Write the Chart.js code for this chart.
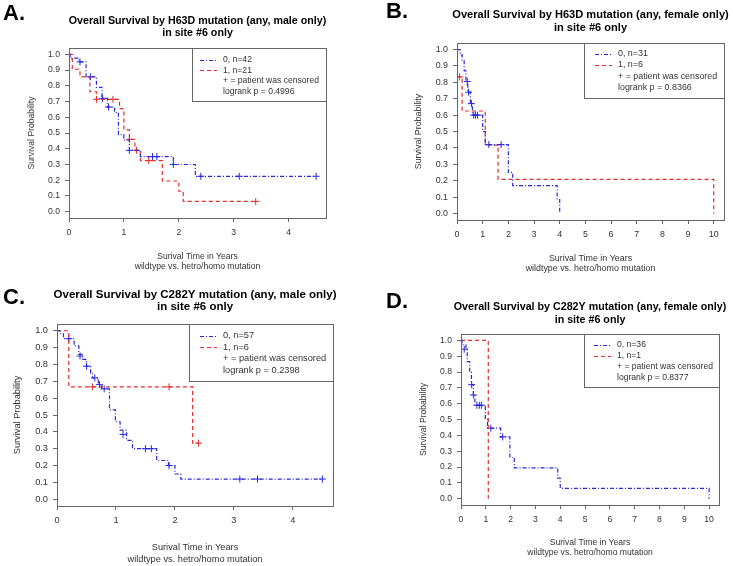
<!DOCTYPE html>
<html>
<head>
<meta charset="utf-8">
<script src="https://cdn.jsdelivr.net/npm/chart.js@4.4.1/dist/chart.umd.min.js"></script>
<style>
  body { margin: 0; background: #fff; width: 733px; height: 566px; position: relative; overflow: hidden; }
  canvas { position: absolute; }
</style>
</head>
<body>
<canvas id="cA" width="366" height="283" style="left:0px;top:0px"></canvas>
<canvas id="cB" width="367" height="283" style="left:366px;top:0px"></canvas>
<canvas id="cC" width="366" height="283" style="left:0px;top:283px"></canvas>
<canvas id="cD" width="367" height="283" style="left:366px;top:283px"></canvas>
<script>
// ---- data ----
const letters = ['A.', 'B.', 'C.', 'D.'];
const titles = [
  ['Overall Survival by H63D mutation (any, male only)', 'in site #6 only'],
  ['Overall Survival by H63D mutation (any, female only)', 'in site #6 only'],
  ['Overall Survival by C282Y mutation (any, male only)', 'in site #6 only'],
  ['Overall Survival by C282Y mutation (any, female only)', 'in site #6 only']
];
const groupN = [[42, 21], [31, 6], [57, 6], [36, 1]];
const logrankP = ['0.4996', '0.8366', '0.2398', '0.8377'];
const yTicks = [0.0, 0.1, 0.2, 0.3, 0.4, 0.5, 0.6, 0.7, 0.8, 0.9, 1.0];
const xTicksShort = [0, 1, 2, 3, 4];
const xTicksLong = [0, 1, 2, 3, 4, 5, 6, 7, 8, 9, 10];
const xTitle = ['Surival Time in Years', 'wildtype vs. hetro/homo mutation'];
const yTitle = 'Survival Probability';

// A: H63D, male
const aBlueTime = [0, 0.02, 0.18, 0.31, 0.5, 0.6, 0.7, 0.83, 0.9, 1.0, 1.1, 1.3, 1.9, 2.3, 4.5];
const aBlueSurv = [1, 0.976, 0.952, 0.857, 0.79, 0.72, 0.665, 0.63, 0.49, 0.455, 0.39, 0.35, 0.30, 0.225, 0.225];
const aBlueCensTime = [0.2, 0.39, 0.61, 0.72, 1.1, 1.52, 1.6, 1.9, 2.4, 3.1, 4.5];
const aBlueCensSurv = [0.952, 0.857, 0.72, 0.665, 0.39, 0.35, 0.35, 0.30, 0.225, 0.225, 0.225];
const aRedTime = [0, 0.06, 0.2, 0.38, 0.5, 0.92, 1.0, 1.1, 1.2, 1.3, 1.7, 2.0, 2.08, 3.4];
const aRedSurv = [1, 0.905, 0.857, 0.762, 0.714, 0.655, 0.52, 0.46, 0.39, 0.325, 0.195, 0.13, 0.065, 0.065];
const aRedCensTime = [0.5, 0.8, 1.1, 1.23, 1.45, 3.4];
const aRedCensSurv = [0.714, 0.714, 0.46, 0.39, 0.325, 0.065];

// B: H63D, female
const bBlueTime = [0, 0.12, 0.2, 0.28, 0.35, 0.42, 0.52, 0.6, 1.0, 1.1, 2.0, 2.17, 3.9, 4.0];
const bBlueSurv = [1, 0.968, 0.935, 0.87, 0.805, 0.74, 0.67, 0.6, 0.5, 0.42, 0.25, 0.17, 0.085, 0];
const bBlueCensTime = [0.4, 0.45, 0.56, 0.65, 0.72, 0.8, 1.24, 1.72];
const bBlueCensSurv = [0.805, 0.74, 0.67, 0.6, 0.6, 0.6, 0.42, 0.42];
const bRedTime = [0, 0.2, 1.1, 1.6, 10, 10];
const bRedSurv = [0.833, 0.625, 0.417, 0.208, 0.208, 0];
const bRedCensTime = [0.1];
const bRedCensSurv = [0.833];

// C: C282Y, male
const cBlueTime = [0, 0.05, 0.11, 0.29, 0.37, 0.43, 0.5, 0.57, 0.6, 0.7, 0.76, 0.89, 0.99, 1.07, 1.18, 1.28, 1.69, 1.89, 2.0, 2.1, 4.5];
const cBlueSurv = [1, 0.982, 0.953, 0.91, 0.86, 0.83, 0.79, 0.75, 0.72, 0.68, 0.655, 0.53, 0.46, 0.41, 0.35, 0.30, 0.23, 0.2, 0.15, 0.12, 0.12];
const cBlueCensTime = [0.2, 0.39, 0.5, 0.64, 0.72, 0.8, 1.12, 1.5, 1.6, 1.9, 3.1, 3.4, 4.5];
const cBlueCensSurv = [0.953, 0.85, 0.79, 0.72, 0.68, 0.655, 0.385, 0.30, 0.30, 0.2, 0.12, 0.12, 0.12];
const cRedTime = [0, 0.2, 2.3, 2.4];
const cRedSurv = [1, 0.667, 0.333, 0.333];
const cRedCensTime = [0.6, 1.9, 2.4];
const cRedCensSurv = [0.667, 0.667, 0.333];

// D: C282Y, female
const dBlueTime = [0, 0.04, 0.2, 0.25, 0.35, 0.42, 0.5, 0.56, 0.98, 1.07, 1.6, 1.97, 2.15, 3.9, 4.0, 10];
const dBlueSurv = [1, 0.972, 0.944, 0.866, 0.80, 0.72, 0.655, 0.59, 0.5, 0.445, 0.39, 0.26, 0.195, 0.13, 0.065, 0];
const dBlueCensTime = [0.13, 0.43, 0.5, 0.64, 0.74, 0.82, 1.2, 1.68];
const dBlueCensSurv = [0.944, 0.72, 0.655, 0.59, 0.59, 0.59, 0.445, 0.39];
const dRedTime = [0, 1.1, 1.1];
const dRedSurv = [1, 1, 0];
const dRedCensTime = [];
const dRedCensSurv = [];

// ---- look ----
const FONT = "'Liberation Sans', Arial, sans-serif";
const BLUE = 'rgb(40,40,225)';
const RED = 'rgb(232,45,45)';
const BLUE_DASH = [4, 2, 1, 2];
const RED_DASH = [4, 3];
const BOX = '#666';
const TEXT = '#333';

// page positions of each panel (plot box = l,t,r,b in page px)
const layouts = [
  { ox: 0, oy: 0, w: 366, plot: [69, 48, 326, 218], xmax: 4.68, fs: 1.0,
    letter: [3, 14], titleY: [21, 33], yTitleX: 32, xTitleY2: 267,
    legend: { w: 134, h: 53, textDx: 31, y0: 12, dy: 10.4 } },
  { ox: 366, oy: 0, w: 367, plot: [457, 43, 724, 220], xmax: 10.4, fs: 1.035,
    letter: [386, 12], titleY: [15, 28], yTitleX: 419, xTitleY2: 269,
    legend: { w: 140, h: 55, textDx: 34, y0: 10.5, dy: 11.3 } },
  { ox: 0, oy: 283, w: 366, plot: [57, 324, 333, 506], xmax: 4.68, fs: 1.075,
    letter: [3, 298], titleY: [295, 307], yTitleX: 17, xTitleY2: 559,
    legend: { w: 144, h: 57, textDx: 34, y0: 11.5, dy: 11.6 } },
  { ox: 366, oy: 283, w: 367, plot: [461, 334, 719, 505], xmax: 10.4, fs: 1.0,
    letter: [386, 302], titleY: [307, 320], yTitleX: 424, xTitleY2: 553,
    legend: { w: 135, h: 53, textDx: 33, y0: 10.5, dy: 11 } }
];

function pts(ts, ss) {
  return ts.map((t, i) => ({ x: t, y: ss[i] }));
}

// box round the plot, panel letter, title, legend box
const decor = {
  id: 'decor',
  afterDraw(chart, args, o) {
    const ctx = chart.ctx;
    const a = chart.chartArea;
    ctx.save();
    ctx.strokeStyle = BOX;
    ctx.lineWidth = 1;
    ctx.setLineDash([]);
    ctx.strokeRect(Math.round(a.left) + 0.5, Math.round(a.top) + 0.5,
      Math.round(a.right - a.left), Math.round(a.bottom - a.top));

    ctx.fillStyle = '#000';
    ctx.textBaseline = 'middle';
    ctx.textAlign = 'left';
    ctx.font = 'bold 22px ' + FONT;
    ctx.fillText(o.letter, o.letterX, o.letterY);

    ctx.textAlign = 'center';
    ctx.font = 'bold ' + o.titleSize + 'px ' + FONT;
    const cx = (a.left + a.right) / 2;
    ctx.fillText(o.title[0], cx, o.titleY[0]);
    ctx.fillText(o.title[1], cx, o.titleY[1]);

    // legend
    const lg = o.legend;
    const lx = Math.round(a.right - lg.w), ly = Math.round(a.top);
    ctx.fillStyle = '#fff';
    ctx.fillRect(lx, ly, lg.w, lg.h);
    ctx.strokeStyle = BOX;
    ctx.strokeRect(lx + 0.5, ly + 0.5, Math.round(a.right) - lx, lg.h);
    ctx.font = o.textSize + 'px ' + FONT;
    ctx.textAlign = 'left';
    const tx = lx + lg.textDx;
    o.rows.forEach((txt, i) => {
      const y = ly + lg.y0 + i * lg.dy;
      if (i < 2) {
        ctx.strokeStyle = i === 0 ? BLUE : RED;
        ctx.lineWidth = 1.2;
        ctx.setLineDash(i === 0 ? BLUE_DASH : RED_DASH);
        ctx.beginPath();
        ctx.moveTo(tx - 23, Math.round(y) + 0.5);
        ctx.lineTo(tx - 6, Math.round(y) + 0.5);
        ctx.stroke();
      }
      ctx.fillStyle = TEXT;
      ctx.fillText(txt, tx, y);
    });
    ctx.restore();
  }
};

const panels = [
  { id: 'cA', blue: [aBlueTime, aBlueSurv], red: [aRedTime, aRedSurv], blueC: [aBlueCensTime, aBlueCensSurv], redC: [aRedCensTime, aRedCensSurv], xTicks: xTicksShort },
  { id: 'cB', blue: [bBlueTime, bBlueSurv], red: [bRedTime, bRedSurv], blueC: [bBlueCensTime, bBlueCensSurv], redC: [bRedCensTime, bRedCensSurv], xTicks: xTicksLong },
  { id: 'cC', blue: [cBlueTime, cBlueSurv], red: [cRedTime, cRedSurv], blueC: [cBlueCensTime, cBlueCensSurv], redC: [cRedCensTime, cRedCensSurv], xTicks: xTicksShort },
  { id: 'cD', blue: [dBlueTime, dBlueSurv], red: [dRedTime, dRedSurv], blueC: [dBlueCensTime, dBlueCensSurv], redC: [dRedCensTime, dRedCensSurv], xTicks: xTicksLong }
];

panels.forEach((p, k) => {
  const L = layouts[k];
  const ch = 283;
  const pl = L.plot[0] - L.ox, pt = L.plot[1] - L.oy, pr = L.plot[2] - L.ox, pb = L.plot[3] - L.oy;
  const txt = +(8.6 * L.fs).toFixed(2);
  const lh = txt * 1.2;

  new Chart(document.getElementById(p.id), {
    type: 'line',
    data: {
      datasets: [
        // survival curves: hold the level until the next event, then drop
        { data: pts(p.blue[0], p.blue[1]), borderColor: BLUE, borderWidth: 1.2, borderDash: BLUE_DASH, stepped: 'before', pointRadius: 0, fill: false },
        { data: pts(p.red[0], p.red[1]), borderColor: RED, borderWidth: 1.2, borderDash: RED_DASH, stepped: 'before', pointRadius: 0, fill: false },
        // censored patients
        { data: pts(p.blueC[0], p.blueC[1]), showLine: false, pointStyle: 'cross', pointRadius: 3.5, borderColor: BLUE, borderWidth: 1 },
        { data: pts(p.redC[0], p.redC[1]), showLine: false, pointStyle: 'cross', pointRadius: 3.5, borderColor: RED, borderWidth: 1 }
      ]
    },
    options: {
      responsive: false,
      animation: false,
      events: [],
      layout: { padding: { top: pt, left: 0, right: L.w - pr, bottom: 0 } },
      plugins: {
        legend: { display: false },
        tooltip: { enabled: false },
        decor: {
          letter: letters[k], letterX: L.letter[0] - L.ox, letterY: L.letter[1] - L.oy,
          title: titles[k], titleY: [L.titleY[0] - L.oy, L.titleY[1] - L.oy], titleSize: +(10.7 * L.fs).toFixed(2),
          textSize: txt, legend: L.legend,
          rows: ['0, n=' + groupN[k][0], '1, n=' + groupN[k][1], '+ = patient was censored', 'logrank p = ' + logrankP[k]]
        }
      },
      scales: {
        x: {
          type: 'linear', min: 0, max: L.xmax,
          afterBuildTicks: s => { s.ticks = p.xTicks.map(v => ({ value: v })); },
          afterFit: s => { s.height = ch - pb; },
          grid: { drawOnChartArea: false, tickLength: 4, color: BOX },
          border: { display: false },
          ticks: { font: { family: FONT, size: txt }, color: TEXT, padding: 5, maxRotation: 0, callback: v => String(v) },
          title: { display: true, text: xTitle, font: { family: FONT, size: txt }, color: TEXT,
                   padding: { top: 0, bottom: ch - (L.xTitleY2 - L.oy) - lh / 2 } }
        },
        y: {
          type: 'linear', min: -0.04, max: 1.04,
          afterBuildTicks: s => { s.ticks = yTicks.map(v => ({ value: v })); },
          afterFit: s => { s.width = pl; },
          grid: { drawOnChartArea: false, tickLength: 4, color: BOX },
          border: { display: false },
          ticks: { font: { family: FONT, size: txt }, color: TEXT, padding: 5, callback: v => v.toFixed(1) },
          title: { display: true, text: yTitle, font: { family: FONT, size: txt }, color: TEXT,
                   padding: { top: (L.yTitleX - L.ox) - lh / 2, bottom: 0 } }
        }
      }
    },
    plugins: [decor]
  });
});
</script>
</body>
</html>
